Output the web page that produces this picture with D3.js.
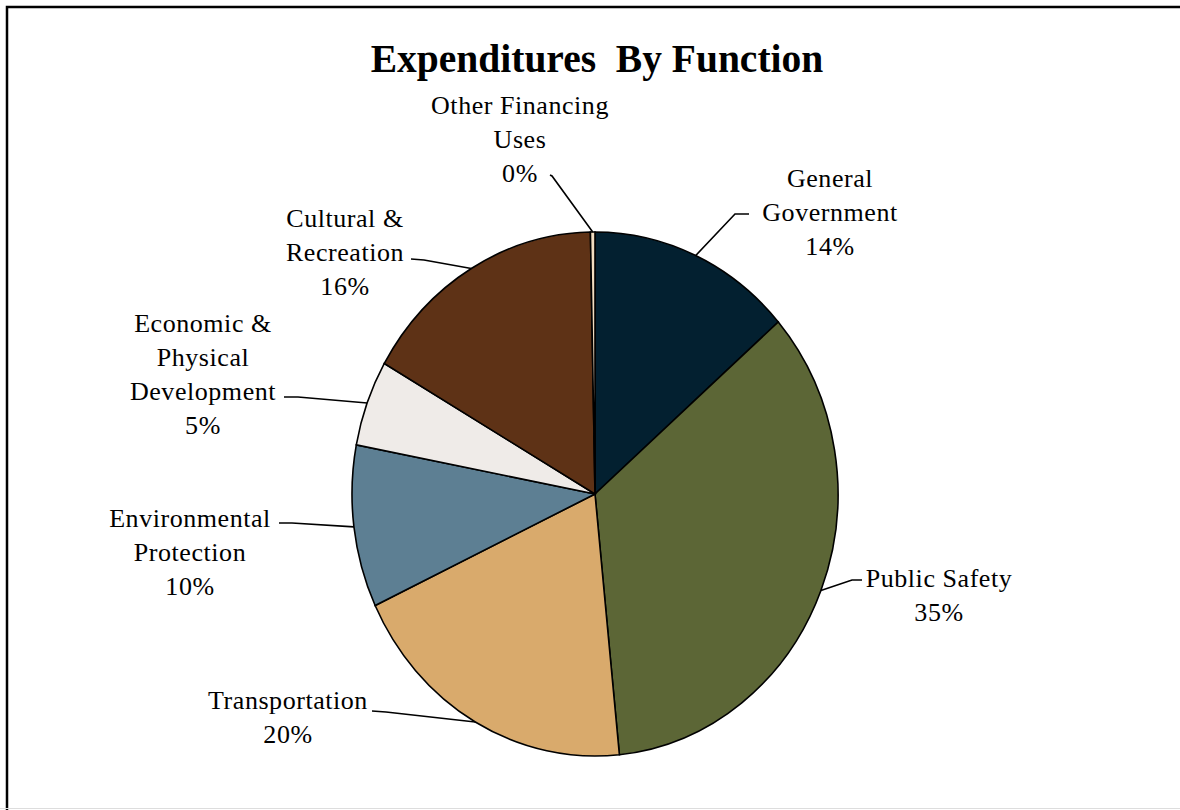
<!DOCTYPE html>
<html>
<head>
<meta charset="utf-8">
<script src="https://cdn.jsdelivr.net/npm/d3@7"></script>
<style>
  body { margin: 0; background: #fff; }
  text { font-family: "Liberation Serif", "Times New Roman", serif; fill: #000; }
</style>
</head>
<body>
<div class="chart"></div>
<script>
var svgWidth = 1180;
var svgHeight = 810;

// data (percent of total)
var categories = ["General Government", "Public Safety", "Transportation",
  "Environmental Protection", "Economic & Physical Development",
  "Cultural & Recreation", "Other Financing Uses"];
var values = [13.6, 34.8, 19.6, 10.0, 5.3, 16.4, 0.3];
var labelLines = [
  ["General", "Government"],
  ["Public Safety"],
  ["Transportation"],
  ["Environmental", "Protection"],
  ["Economic &", "Physical", "Development"],
  ["Cultural &", "Recreation"],
  ["Other Financing", "Uses"]
];
var colors = ["#032030", "#5c6636", "#d9aa6c", "#5d7f93", "#efebe8", "#5e3216", "#f0dcc0"];

// label placement: text centre x, first line y, leader start, leader elbow
var labelLayout = [
  { x: 830, y: 178, lx: 749, ly: 214, ex: 735, ey: 214 },
  { x: 939, y: 578, lx: 862, ly: 580, ex: 852, ey: 580 },
  { x: 288, y: 700, lx: 372, ly: 711, ex: 386, ey: 712 },
  { x: 190, y: 518, lx: 279, ly: 523, ex: 292, ey: 523 },
  { x: 203, y: 323, lx: 284, ly: 397, ex: 298, ey: 397 },
  { x: 345, y: 218, lx: 411, ly: 259, ex: 424, ey: 260 },
  { x: 520, y: 105, lx: 550, ly: 175, ex: 552, ey: 176 }
];

var cx = 595, cy = 494, rx = 243, ry = 262;
var lineGap = 34;

var svg = d3.select(".chart")
  .append("svg")
  .attr("width", svgWidth)
  .attr("height", svgHeight);

// frame
svg.append("path")
  .attr("d", "M7,810V7H1180")
  .attr("fill", "none")
  .attr("stroke", "#000")
  .attr("stroke-width", 2.5);
svg.append("line")
  .attr("x1", 0).attr("x2", svgWidth)
  .attr("y1", 808.5).attr("y2", 808.5)
  .attr("stroke", "#ddd");

svg.append("text")
  .attr("x", 597)
  .attr("y", 72)
  .attr("text-anchor", "middle")
  .style("font-size", "39.5px")
  .style("font-weight", "bold")
  .style("white-space", "pre")
  .text("Expenditures  By Function");

var tableData = categories.map(function (c, i) {
  return { name: c, value: values[i], lines: labelLines[i], color: colors[i], layout: labelLayout[i] };
});

var pie = d3.pie().sort(null).value(function (d) { return d.value; });
var arcs = pie(tableData);

var arc = d3.arc().innerRadius(0).outerRadius(rx);

// pie is drawn a bit taller than wide, like the original
var pieGroup = svg.append("g")
  .attr("transform", `translate(${cx}, ${cy}) scale(1, ${ry / rx})`);

pieGroup.selectAll("path")
  .data(arcs)
  .enter()
  .append("path")
  .attr("d", arc)
  .attr("fill", function (d) { return d.data.color; })
  .attr("stroke", "#000")
  .attr("stroke-width", 1.6)
  .attr("vector-effect", "non-scaling-stroke");

// edge point at the middle of a slice
function edgePoint(d) {
  var a = (d.startAngle + d.endAngle) / 2;
  return [cx + rx * Math.sin(a), cy - ry * Math.cos(a)];
}

var labels = svg.append("g");

arcs.forEach(function (d) {
  var L = d.data.layout;
  var p = edgePoint(d);
  labels.append("polyline")
    .attr("points", [[L.lx, L.ly], [L.ex, L.ey], p].map(function (q) { return q.join(","); }).join(" "))
    .attr("fill", "none")
    .attr("stroke", "#000")
    .attr("stroke-width", 1.6);

  var lines = d.data.lines.concat([Math.round(d.data.value) + "%"]);
  var t = labels.append("text")
    .attr("text-anchor", "middle")
    .style("font-size", "26px")
    .style("letter-spacing", "0.55px");
  lines.forEach(function (s, j) {
    t.append("tspan")
      .attr("x", L.x)
      .attr("y", L.y + j * lineGap)
      .attr("dy", "0.35em")
      .text(s);
  });
});
</script>
</body>
</html>
